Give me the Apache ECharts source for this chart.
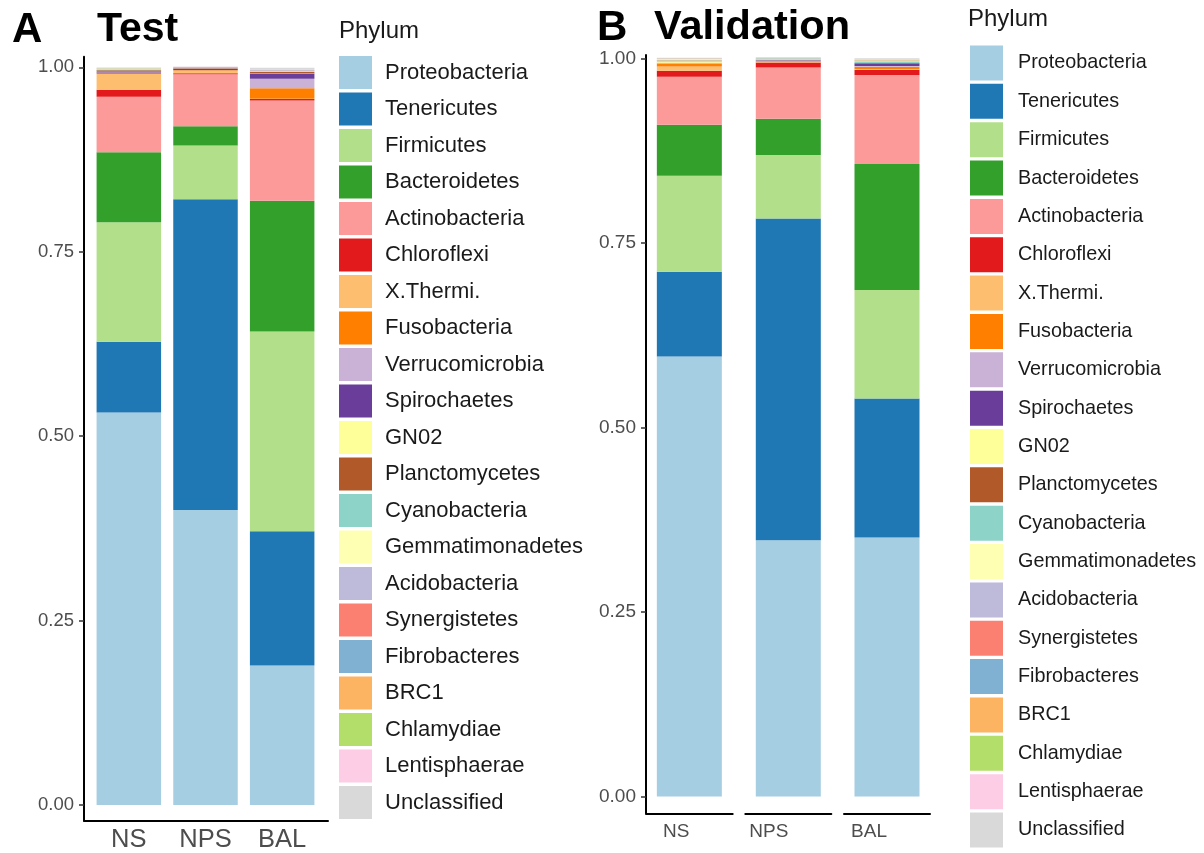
<!DOCTYPE html>
<html>
<head>
<meta charset="utf-8">
<script src="https://cdn.jsdelivr.net/npm/echarts@6/dist/echarts.min.js"></script>
<style>
  html, body { margin: 0; padding: 0; background: #ffffff; }
  #chart { width: 1204px; height: 853px; }
</style>
</head>
<body>
<div id="chart"></div>
<script>
// ---------- data ----------
const categories = ['NS', 'NPS', 'BAL'];
const phyla = ['Proteobacteria', 'Tenericutes', 'Firmicutes', 'Bacteroidetes', 'Actinobacteria',
  'Chloroflexi', 'X.Thermi.', 'Fusobacteria', 'Verrucomicrobia', 'Spirochaetes', 'GN02',
  'Planctomycetes', 'Cyanobacteria', 'Gemmatimonadetes', 'Acidobacteria', 'Synergistetes',
  'Fibrobacteres', 'BRC1', 'Chlamydiae', 'Lentisphaerae', 'Unclassified'];
const yTicks = [0, 0.25, 0.5, 0.75, 1];

// Panel A (Test): relative abundance per phylum, in phyla order
const testNS  = [0.532, 0.096, 0.162, 0.095, 0.075, 0.0095, 0.0215, 0.0015, 0.0005, 0.0005, 0.0005,
  0.002, 0.0005, 0.0005, 0.0005, 0.0003, 0.0002, 0.0005, 0.0002, 0.0002, 0.001];
const testNPS = [0.400, 0.421, 0.073, 0.026, 0.0705, 0.0015, 0.003, 0.001, 0.0005, 0.002, 0.0003,
  0.0007, 0.0002, 0.0002, 0.0002, 0.0001, 0.0001, 0.0002, 0.0001, 0.0001, 0.0003];
const testBAL = [0.189, 0.182, 0.271, 0.177, 0.136, 0.002, 0.0005, 0.014, 0.013, 0.007, 0.0003,
  0.002, 0.0003, 0.0002, 0.0015, 0.0002, 0.0002, 0.0002, 0.0002, 0.0002, 0.0025];

// Panel B (Validation)
const valNS  = [0.596, 0.115, 0.130, 0.069, 0.065, 0.008, 0.006, 0.004, 0.0005, 0.0005, 0.002,
  0.001, 0.0003, 0.0015, 0.0003, 0.0003, 0.0002, 0.0003, 0.0002, 0.0002, 0.0005];
const valNPS = [0.347, 0.436, 0.086, 0.049, 0.0695, 0.007, 0.0005, 0.0005, 0.0005, 0.0015, 0.0002,
  0.0005, 0.0002, 0.0002, 0.001, 0.0002, 0.0002, 0.0002, 0.0002, 0.0005, 0.0008];
const valBAL = [0.351, 0.188, 0.147, 0.171, 0.1205, 0.007, 0.001, 0.003, 0.001, 0.003, 0.0003,
  0.001, 0.0015, 0.0003, 0.001, 0.0003, 0.0003, 0.0003, 0.0003, 0.0003, 0.002];

// ---------- styles ----------
const colors = ['#A6CEE3', '#1F78B4', '#B2DF8A', '#33A02C', '#FB9A99', '#E31A1C', '#FDBF6F',
  '#FF7F00', '#CAB2D6', '#6A3D9A', '#FFFF99', '#B15928', '#8DD3C7', '#FFFFB3', '#BEBADA',
  '#FB8072', '#80B1D3', '#FDB462', '#B3DE69', '#FCCDE5', '#D9D9D9'];
const FONT = '"Liberation Sans", Arial, Helvetica, sans-serif';
const AXIS_LINE = { show: true, onZero: false, lineStyle: { color: '#000', width: 2 } };

const testVals = [testNS, testNPS, testBAL];
const valVals = [valNS, valNPS, valBAL];

const chart = echarts.init(document.getElementById('chart'), null, { renderer: 'canvas' });

const series = [];
phyla.forEach((p, i) => {
  series.push({
    type: 'bar', name: p, stack: 'A', xAxisIndex: 1, yAxisIndex: 1, barWidth: 64.5,
    itemStyle: { color: colors[i] },
    data: testVals.map(arr => arr[i])
  });
});
valVals.forEach((arr, j) => {
  phyla.forEach((p, i) => {
    series.push({
      type: 'bar', name: p, stack: 'B' + j, xAxisIndex: 2 + j, yAxisIndex: 2 + j, barWidth: 65,
      itemStyle: { color: colors[i] },
      data: [arr[i]]
    });
  });
});

const aMin = -0.0214, aMax = 1.0144;
const bMin = -0.0228, bMax = 1.0045;

const legendBase = {
  orient: 'vertical', icon: 'rect', padding: 0, selectedMode: false,
  data: phyla
};

const option = {
  animation: false,
  backgroundColor: '#ffffff',
  textStyle: { fontFamily: FONT },
  grid: [
    { left: 84, top: 56.7, width: 244, height: 764 },       // A axes frame
    { left: 90.5, top: 56.7, width: 230, height: 764 },     // A bars
    { left: 646, top: 55, width: 86.7, height: 758.3 },     // B NS
    { left: 745.3, top: 55, width: 86, height: 758.3 },     // B NPS
    { left: 844, top: 55, width: 86, height: 758.3 }        // B BAL
  ],
  xAxis: [
    { gridIndex: 0, type: 'value', min: 0, max: 1, axisLine: AXIS_LINE,
      axisTick: { show: false }, axisLabel: { show: false }, splitLine: { show: false } },
    { gridIndex: 1, type: 'category', data: categories, axisLine: { show: false, onZero: false },
      axisTick: { show: false },
      axisLabel: { fontSize: 25.5, color: '#4d4d4d', margin: 6, fontFamily: FONT } },
    ...categories.map((c, j) => ({
      gridIndex: 2 + j, type: 'category', data: [c], axisLine: AXIS_LINE,
      axisTick: { show: false },
      axisLabel: { fontSize: 19, color: '#4d4d4d', margin: 9, align: 'right', fontFamily: FONT }
    }))
  ],
  yAxis: [
    { gridIndex: 0, type: 'value', min: aMin, max: aMax, axisLine: AXIS_LINE,
      axisTick: { show: true, length: 5, customValues: yTicks, lineStyle: { color: '#333', width: 1.5 } },
      axisLabel: { customValues: yTicks, formatter: v => v.toFixed(2), fontSize: 18.5,
        color: '#4d4d4d', margin: 10, fontFamily: FONT },
      splitLine: { show: false } },
    { gridIndex: 1, type: 'value', min: aMin, max: aMax, show: false, splitLine: { show: false } },
    { gridIndex: 2, type: 'value', min: bMin, max: bMax, axisLine: AXIS_LINE,
      axisTick: { show: true, length: 5, customValues: yTicks, lineStyle: { color: '#333', width: 1.5 } },
      axisLabel: { customValues: yTicks, formatter: v => v.toFixed(2), fontSize: 19,
        color: '#4d4d4d', margin: 10, fontFamily: FONT },
      splitLine: { show: false } },
    { gridIndex: 3, type: 'value', min: bMin, max: bMax, show: false, splitLine: { show: false } },
    { gridIndex: 4, type: 'value', min: bMin, max: bMax, show: false, splitLine: { show: false } }
  ],
  legend: [
    Object.assign({}, legendBase, {
      left: 339, top: 56, itemWidth: 33, itemHeight: 33, itemGap: 3.5,
      textStyle: { fontSize: 22, color: '#1a1a1a', fontFamily: FONT, padding: [0, 0, 0, 8] }
    }),
    Object.assign({}, legendBase, {
      left: 970, top: 45.5, itemWidth: 33, itemHeight: 35, itemGap: 3.35,
      textStyle: { fontSize: 19.8, color: '#1a1a1a', fontFamily: FONT, padding: [0, 0, 0, 10] }
    })
  ],
  graphic: [
    { type: 'text', x: 12, y: 30, style: { text: 'A', font: 'bold 42px ' + FONT, fill: '#000', verticalAlign: 'middle' } },
    { type: 'text', x: 97, y: 30, style: { text: 'Test', font: 'bold 41px ' + FONT, fill: '#000', verticalAlign: 'middle' } },
    { type: 'text', x: 597, y: 28, style: { text: 'B', font: 'bold 42px ' + FONT, fill: '#000', verticalAlign: 'middle' } },
    { type: 'text', x: 654, y: 28, style: { text: 'Validation', font: 'bold 41.5px ' + FONT, fill: '#000', verticalAlign: 'middle' } },
    { type: 'text', x: 339, y: 31, style: { text: 'Phylum', font: '24px ' + FONT, fill: '#1a1a1a', verticalAlign: 'middle' } },
    { type: 'text', x: 968, y: 19, style: { text: 'Phylum', font: '24px ' + FONT, fill: '#1a1a1a', verticalAlign: 'middle' } }
  ],
  series: series
};

chart.setOption(option);
</script>
</body>
</html>
